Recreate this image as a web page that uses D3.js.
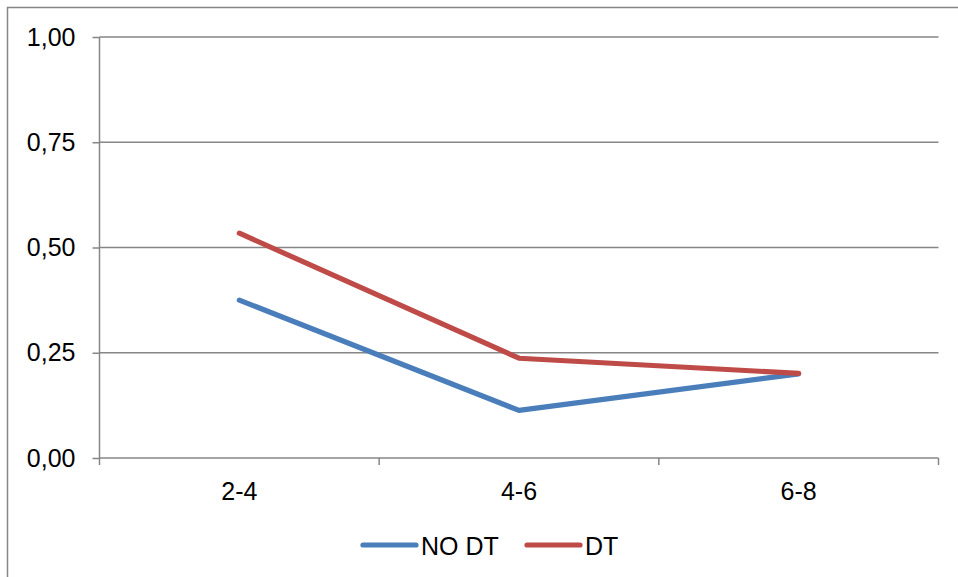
<!DOCTYPE html>
<html><head><meta charset="utf-8">
<script src="https://cdn.jsdelivr.net/npm/d3@7/dist/d3.min.js"></script>
<style>body{margin:0;background:#fff}svg{display:block}text{font-family:"Liberation Sans",Arial,sans-serif}</style>
</head><body>
<svg id="c" width="958" height="577"></svg>
<script>
const categories = ["2-4", "4-6", "6-8"];
const seriesNames = ["NO DT", "DT"];
const noDT = [0.375, 0.113, 0.2];
const dt = [0.534, 0.237, 0.201];
const yTicks = [0, 0.25, 0.5, 0.75, 1];
const colors = ["#4A7EBB", "#BE4B48"];

const FS = 25;
const svg = d3.select("#c");
const m = {l: 99.5, r: 938.5, t: 37, b: 458};
// outer border
svg.append("rect").attr("x", 7.5).attr("y", 7.5).attr("width", 960).attr("height", 600)
  .attr("fill", "none").attr("stroke", "#868686").attr("stroke-width", 1.5);

const x = d3.scaleBand().domain(categories).range([m.l, m.r]);
const y = d3.scaleLinear().domain([0, 1]).range([m.b, m.t]);

// gridlines
svg.append("g").selectAll("line").data(yTicks.filter(d => d > 0)).join("line")
  .attr("x1", m.l).attr("x2", m.r).attr("y1", d => y(d)).attr("y2", d => y(d))
  .attr("stroke", "#868686").attr("stroke-width", 1.5);

// y axis
const ya = svg.append("g").attr("transform", `translate(${m.l},0)`)
  .call(d3.axisLeft(y).tickValues(yTicks).tickSize(7).tickPadding(17)
    .tickFormat(d => d3.format(".2f")(d).replace(".", ",")));
ya.attr("font-size", FS).attr("font-family", "Liberation Sans, Arial, sans-serif");
ya.select(".domain").attr("stroke", "#868686").attr("stroke-width", 1.5).attr("d", `M0,${m.t}V${m.b}`);
ya.selectAll(".tick line").attr("stroke", "#868686").attr("stroke-width", 1.5);
ya.selectAll("text").attr("fill", "#000");

// x axis
const xa = svg.append("g").attr("transform", `translate(0,${m.b})`)
  .call(d3.axisBottom(x).tickSize(0).tickPadding(24));
xa.attr("font-size", FS).attr("font-family", "Liberation Sans, Arial, sans-serif");
xa.select(".domain").attr("stroke", "#868686").attr("stroke-width", 1.5).attr("d", `M${m.l},0H${m.r}`);
xa.selectAll("text").attr("fill", "#000");
const bounds = categories.map(c => x(c)).concat([m.r]);
svg.append("g").selectAll("line").data(bounds).join("line")
  .attr("x1", d => d).attr("x2", d => d).attr("y1", m.b).attr("y2", m.b + 7)
  .attr("stroke", "#868686").attr("stroke-width", 1.5);

// lines
const line = d3.line().x((d, i) => x(categories[i]) + x.bandwidth() / 2).y(d => y(d));
[noDT, dt].forEach((s, i) => {
  svg.append("path").datum(s).attr("d", line).attr("fill", "none")
    .attr("stroke", colors[i]).attr("stroke-width", 5.2)
    .attr("stroke-linecap", "round").attr("stroke-linejoin", "round");
});

// legend
const leg = [{x: 363, tx: 421}, {x: 527, tx: 585}];
seriesNames.forEach((n, i) => {
  svg.append("line").attr("x1", leg[i].x).attr("x2", leg[i].x + 53).attr("y1", 545).attr("y2", 545)
    .attr("stroke", colors[i]).attr("stroke-width", 5.2).attr("stroke-linecap", "round");
  svg.append("text").attr("x", leg[i].tx).attr("y", 554.5).attr("font-size", FS).attr("fill", "#000").text(n);
});
</script>
</body></html>
